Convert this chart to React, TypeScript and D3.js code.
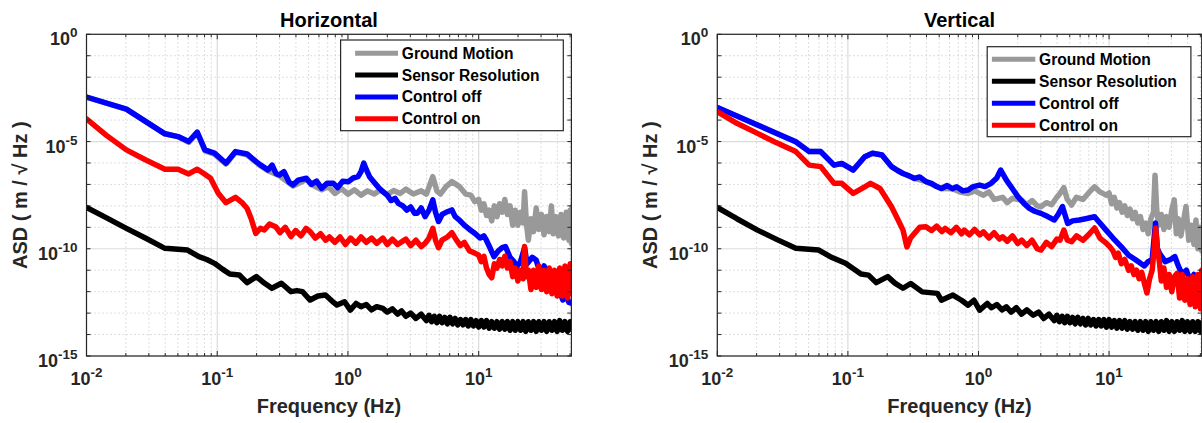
import React from "react";
import * as d3 from "d3";

// Each point: [log10 frequency (Hz), log10 ASD (m/√Hz)]
type P = [number, number];

const seriesNames = ["Ground Motion", "Sensor Resolution", "Control off", "Control on"];
const seriesColors = ["#999999", "#000000", "#0000ff", "#ff0000"];
const xTickExponents = [-2, -1, 0, 1];
const yTickExponents = [0, -5, -10, -15];
const panelTitles = ["Horizontal", "Vertical"];
const xLabel = "Frequency (Hz)";
const yLabel = "ASD ( m / \u221A Hz )";
const freqRange = [0.01, 51.2];
const asdRange = [1e-15, 1];

const hGround: P[] = [[-2,-2.93],[-1.695,-3.49],[-1.4,-4.64],[-1.3,-4.77],[-1.218,-5.04],[-1.153,-4.6],[-1.094,-5.44],[-1.021,-5.59],[-0.933,-6.05],[-0.86,-5.5],[-0.772,-5.62],[-0.67,-6.13],[-0.612,-6.36],[-0.524,-6.6],[-0.42,-7.07],[-0.318,-6.77],[-0.25,-7.1],[-0.201,-7.25],[-0.15,-7.1],[-0.1,-7.42],[-0.05,-7.2],[0,-7.45],[0.05,-7.25],[0.1,-7.5],[0.15,-7.3],[0.2,-7.45],[0.25,-7.25],[0.3,-7.48],[0.35,-7.28],[0.4,-7.42],[0.443,-7.22],[0.5,-7.45],[0.56,-7.3],[0.6,-7.45],[0.649,-6.64],[0.68,-7.3],[0.707,-7.45],[0.75,-7.1],[0.795,-6.87],[0.853,-7.1],[0.9,-7.45],[0.94,-7.5],[0.97,-7.8],[1,-7.7],[1.02,-8.2],[1.04,-7.9],[1.06,-8.45],[1.08,-8.2],[1.1,-8.7],[1.12,-8.0],[1.14,-8.5],[1.16,-7.9],[1.18,-8.3],[1.2,-7.7],[1.22,-8.4],[1.24,-8.0],[1.26,-8.9],[1.28,-8.2],[1.3,-8.9],[1.32,-8.3],[1.34,-8.8],[1.351,-7.34],[1.365,-8.8],[1.38,-9.6],[1.4,-8.6],[1.42,-9.2],[1.44,-8.1],[1.46,-9.1],[1.48,-8.4],[1.5,-9.35],[1.52,-8.5],[1.54,-9.2],[1.556,-8.0],[1.57,-9.3],[1.59,-8.5],[1.61,-9.4],[1.63,-8.4],[1.65,-9.5],[1.67,-8.3],[1.69,-9.6],[1.7,-8.2],[1.71,-9.75],[1.714,-8.05]];

const hSensor: P[] = [[-2,-8.07],[-1.85,-8.55],[-1.695,-9.05],[-1.55,-9.5],[-1.4,-9.98],[-1.3,-10.02],[-1.227,-10.06],[-1.14,-10.37],[-1.08,-10.5],[-1.021,-10.68],[-0.96,-10.95],[-0.904,-11.18],[-0.831,-11.22],[-0.772,-11.58],[-0.7,-11.3],[-0.64,-11.6],[-0.582,-11.84],[-0.509,-11.61],[-0.436,-12.0],[-0.39,-11.95],[-0.348,-12.0],[-0.289,-12.39],[-0.23,-12.2],[-0.172,-12.16],[-0.12,-12.45],[-0.084,-12.62],[-0.026,-12.47],[0.018,-12.86],[0.062,-12.55],[0.1,-12.7],[0.14,-12.6],[0.18,-12.85],[0.22,-12.7],[0.267,-12.78],[0.3,-12.95],[0.34,-12.8],[0.38,-13.05],[0.41,-12.9],[0.443,-13.15],[0.48,-13.0],[0.52,-13.25],[0.56,-13.05],[0.6,-13.35],[0.62,-13.1],[0.64,-13.4],[0.66,-13.15],[0.68,-13.45],[0.7,-13.15],[0.72,-13.45],[0.74,-13.2],[0.76,-13.5],[0.78,-13.2],[0.8,-13.5],[0.82,-13.25],[0.84,-13.55],[0.86,-13.3],[0.88,-13.55],[0.9,-13.3],[0.92,-13.6],[0.94,-13.3],[0.96,-13.6],[0.98,-13.35],[1,-13.65],[1.02,-13.35],[1.04,-13.65],[1.06,-13.35],[1.08,-13.7],[1.1,-13.4],[1.12,-13.7],[1.14,-13.4],[1.16,-13.75],[1.18,-13.4],[1.2,-13.75],[1.22,-13.4],[1.24,-13.8],[1.26,-13.4],[1.28,-13.8],[1.3,-13.4],[1.32,-13.8],[1.34,-13.4],[1.36,-13.85],[1.38,-13.4],[1.4,-13.8],[1.42,-13.4],[1.44,-13.85],[1.46,-13.4],[1.48,-13.8],[1.5,-13.4],[1.52,-13.85],[1.54,-13.4],[1.56,-13.8],[1.58,-13.4],[1.6,-13.85],[1.62,-13.35],[1.64,-13.8],[1.66,-13.4],[1.68,-13.85],[1.7,-13.4],[1.714,-13.75]];

const hOff: P[] = [[-2,-2.93],[-1.695,-3.49],[-1.4,-4.64],[-1.3,-4.77],[-1.218,-5.0],[-1.153,-4.56],[-1.094,-5.39],[-1.021,-5.54],[-0.933,-6.01],[-0.86,-5.47],[-0.772,-5.58],[-0.7,-5.95],[-0.67,-6.09],[-0.612,-6.32],[-0.58,-6.1],[-0.55,-6.5],[-0.524,-6.56],[-0.49,-6.4],[-0.45,-6.9],[-0.42,-7.02],[-0.38,-6.8],[-0.318,-6.71],[-0.28,-7.0],[-0.24,-6.85],[-0.201,-7.18],[-0.16,-6.95],[-0.113,-6.94],[-0.08,-7.15],[-0.04,-6.85],[0.004,-6.87],[0.04,-6.7],[0.077,-6.64],[0.1,-6.4],[0.121,-6.01],[0.14,-6.3],[0.165,-6.64],[0.2,-6.9],[0.235,-7.15],[0.267,-7.34],[0.3,-7.5],[0.33,-7.75],[0.36,-7.65],[0.385,-7.88],[0.42,-8.0],[0.45,-8.2],[0.48,-8.05],[0.51,-8.35],[0.531,-8.34],[0.56,-8.1],[0.59,-8.5],[0.62,-8.2],[0.649,-7.72],[0.67,-8.3],[0.693,-8.73],[0.72,-8.4],[0.75,-8.3],[0.795,-8.19],[0.82,-8.5],[0.853,-8.66],[0.89,-8.9],[0.93,-9.1],[0.97,-9.28],[1.01,-9.5],[1.04,-9.4],[1.058,-9.59],[1.09,-10.0],[1.117,-10.37],[1.15,-10.1],[1.18,-9.95],[1.205,-9.9],[1.24,-10.4],[1.27,-10.6],[1.292,-10.83],[1.32,-10.6],[1.351,-9.95],[1.37,-10.7],[1.41,-10.4],[1.439,-10.52],[1.47,-11.1],[1.5,-10.8],[1.53,-11.4],[1.556,-11.61],[1.59,-11.4],[1.62,-12.0],[1.644,-12.39],[1.67,-12.2],[1.69,-12.5],[1.714,-12.55]];

const hOn: P[] = [[-2,-3.94],[-1.85,-4.7],[-1.695,-5.39],[-1.55,-5.85],[-1.4,-6.29],[-1.3,-6.29],[-1.218,-6.51],[-1.153,-6.29],[-1.1,-6.5],[-1.051,-6.71],[-0.992,-7.41],[-0.933,-7.85],[-0.86,-7.6],[-0.81,-7.85],[-0.772,-8.11],[-0.74,-8.6],[-0.705,-9.28],[-0.67,-9.05],[-0.64,-9.12],[-0.6,-8.85],[-0.553,-8.97],[-0.52,-9.25],[-0.48,-9.0],[-0.436,-9.43],[-0.4,-9.15],[-0.36,-9.4],[-0.32,-9.05],[-0.289,-9.2],[-0.25,-9.5],[-0.21,-9.3],[-0.17,-9.6],[-0.142,-9.45],[-0.1,-9.7],[-0.06,-9.45],[-0.02,-9.8],[0.02,-9.5],[0.06,-9.75],[0.1,-9.45],[0.14,-9.7],[0.18,-9.5],[0.22,-9.75],[0.267,-9.5],[0.3,-9.8],[0.34,-9.55],[0.38,-9.8],[0.443,-9.55],[0.48,-9.85],[0.52,-9.6],[0.56,-9.9],[0.59,-9.75],[0.62,-9.5],[0.649,-9.05],[0.67,-9.6],[0.693,-9.95],[0.72,-9.6],[0.76,-9.45],[0.795,-9.25],[0.83,-9.6],[0.86,-9.85],[0.89,-9.7],[0.93,-10.1],[0.97,-10.2],[1,-10.3],[1.02,-10.6],[1.04,-10.35],[1.06,-10.9],[1.08,-11.2],[1.1,-11.35],[1.12,-10.7],[1.14,-10.9],[1.16,-10.5],[1.18,-10.8],[1.2,-10.35],[1.22,-10.9],[1.24,-10.6],[1.26,-11.3],[1.28,-10.9],[1.3,-11.5],[1.32,-11.0],[1.34,-11.4],[1.351,-9.9],[1.365,-11.3],[1.38,-11.0],[1.4,-11.9],[1.42,-11.0],[1.44,-11.8],[1.46,-10.8],[1.48,-11.9],[1.5,-11.0],[1.52,-12.0],[1.54,-10.9],[1.56,-12.1],[1.58,-11.0],[1.6,-12.2],[1.62,-10.9],[1.64,-12.2],[1.66,-10.8],[1.68,-12.3],[1.7,-10.7],[1.714,-12.1]];

const vGround: P[] = [[-2,-3.41],[-1.692,-4.23],[-1.399,-5.01],[-1.296,-5.47],[-1.208,-5.47],[-1.106,-6.1],[-1.047,-6.02],[-0.959,-6.33],[-0.871,-5.71],[-0.812,-5.55],[-0.739,-5.63],[-0.666,-6.17],[-0.578,-6.49],[-0.49,-6.72],[-0.402,-6.87],[-0.284,-7.19],[-0.2,-7.2],[-0.14,-7.35],[-0.079,-7.42],[-0.03,-7.3],[0.038,-7.5],[0.08,-7.35],[0.12,-7.7],[0.185,-7.6],[0.22,-7.85],[0.26,-7.65],[0.331,-7.73],[0.37,-7.95],[0.41,-7.75],[0.45,-8.0],[0.478,-8.04],[0.52,-7.85],[0.56,-7.95],[0.6,-7.6],[0.624,-7.42],[0.654,-7.15],[0.68,-7.7],[0.713,-7.96],[0.75,-7.6],[0.8,-7.7],[0.85,-7.35],[0.889,-7.11],[0.93,-7.35],[0.977,-7.5],[1,-7.4],[1.02,-7.9],[1.04,-7.6],[1.06,-8.1],[1.08,-7.85],[1.1,-8.3],[1.12,-8.0],[1.14,-8.45],[1.16,-8.15],[1.18,-8.6],[1.2,-8.3],[1.22,-8.8],[1.24,-8.5],[1.26,-9.1],[1.28,-8.8],[1.3,-9.3],[1.32,-8.6],[1.34,-8.3],[1.352,-6.57],[1.365,-8.2],[1.38,-8.9],[1.4,-8.4],[1.42,-9.1],[1.44,-8.5],[1.46,-9.0],[1.48,-8.2],[1.499,-7.72],[1.515,-9.3],[1.53,-8.6],[1.55,-9.4],[1.57,-8.7],[1.589,-8.03],[1.61,-9.6],[1.63,-8.9],[1.65,-9.8],[1.665,-8.66],[1.68,-10.0],[1.695,-9.0],[1.71,-10.1]];

const vSensor: P[] = [[-2,-8.07],[-1.85,-8.6],[-1.692,-9.13],[-1.55,-9.55],[-1.399,-9.98],[-1.3,-10.02],[-1.223,-10.06],[-1.135,-10.37],[-1.018,-10.68],[-0.9,-11.18],[-0.842,-11.23],[-0.783,-11.58],[-0.695,-11.3],[-0.64,-11.6],[-0.578,-11.84],[-0.519,-11.62],[-0.431,-12.01],[-0.314,-12.08],[-0.284,-12.4],[-0.196,-12.16],[-0.13,-12.4],[-0.079,-12.63],[-0.035,-12.4],[0.009,-12.86],[0.067,-12.55],[0.1,-12.75],[0.14,-12.6],[0.18,-12.85],[0.214,-12.71],[0.25,-12.95],[0.29,-12.75],[0.33,-13.05],[0.37,-12.85],[0.419,-13.1],[0.46,-12.95],[0.5,-13.25],[0.54,-13.05],[0.58,-13.35],[0.6,-13.1],[0.62,-13.4],[0.64,-13.15],[0.66,-13.45],[0.68,-13.15],[0.7,-13.45],[0.72,-13.2],[0.74,-13.5],[0.76,-13.2],[0.78,-13.5],[0.8,-13.25],[0.82,-13.55],[0.84,-13.25],[0.86,-13.55],[0.88,-13.3],[0.9,-13.6],[0.92,-13.3],[0.94,-13.6],[0.96,-13.3],[0.98,-13.65],[1,-13.3],[1.02,-13.65],[1.04,-13.35],[1.06,-13.7],[1.08,-13.35],[1.1,-13.7],[1.12,-13.35],[1.14,-13.75],[1.16,-13.4],[1.18,-13.75],[1.2,-13.4],[1.22,-13.8],[1.24,-13.4],[1.26,-13.8],[1.28,-13.4],[1.3,-13.85],[1.32,-13.4],[1.34,-13.8],[1.36,-13.4],[1.38,-13.85],[1.4,-13.4],[1.42,-13.8],[1.44,-13.35],[1.46,-13.85],[1.48,-13.4],[1.5,-13.85],[1.52,-13.4],[1.54,-13.8],[1.56,-13.35],[1.58,-13.85],[1.6,-13.4],[1.62,-13.85],[1.64,-13.4],[1.66,-13.85],[1.68,-13.4],[1.7,-13.85],[1.71,-13.45]];

const vOff: P[] = [[-2,-3.41],[-1.692,-4.23],[-1.399,-5.01],[-1.296,-5.47],[-1.208,-5.47],[-1.106,-6.1],[-1.047,-6.02],[-0.959,-6.33],[-0.871,-5.71],[-0.812,-5.55],[-0.739,-5.63],[-0.666,-6.17],[-0.62,-6.35],[-0.578,-6.49],[-0.53,-6.6],[-0.49,-6.72],[-0.45,-6.65],[-0.402,-6.87],[-0.36,-6.95],[-0.32,-7.1],[-0.284,-7.19],[-0.24,-7.05],[-0.2,-7.2],[-0.167,-7.11],[-0.12,-7.3],[-0.079,-7.26],[-0.04,-7.1],[0.009,-7.03],[0.05,-7.1],[0.097,-6.95],[0.14,-6.7],[0.17,-6.33],[0.214,-6.8],[0.26,-7.2],[0.302,-7.57],[0.35,-7.9],[0.39,-8.12],[0.43,-8.25],[0.478,-8.35],[0.53,-8.5],[0.581,-8.66],[0.61,-8.4],[0.643,-8.03],[0.683,-8.82],[0.72,-8.7],[0.771,-8.66],[0.82,-8.6],[0.889,-8.51],[0.93,-8.8],[0.977,-9.13],[1.03,-9.5],[1.094,-9.91],[1.15,-10.3],[1.2,-10.5],[1.241,-10.68],[1.27,-10.8],[1.299,-10.6],[1.33,-10.5],[1.355,-8.8],[1.37,-10.0],[1.387,-10.22],[1.43,-10.6],[1.47,-10.5],[1.504,-10.37],[1.53,-10.8],[1.56,-11.2],[1.592,-11.0],[1.62,-11.5],[1.65,-11.2],[1.68,-11.7],[1.71,-11.15]];

const vOn: P[] = [[-2,-3.61],[-1.85,-4.15],[-1.692,-4.62],[-1.55,-5.05],[-1.399,-5.47],[-1.296,-6.1],[-1.208,-6.17],[-1.106,-6.95],[-1.047,-6.95],[-0.959,-7.42],[-0.871,-7.11],[-0.827,-6.95],[-0.754,-7.19],[-0.666,-8.04],[-0.62,-8.6],[-0.578,-9.13],[-0.548,-9.91],[-0.52,-9.5],[-0.49,-9.28],[-0.45,-9.0],[-0.402,-8.97],[-0.36,-9.15],[-0.32,-8.95],[-0.28,-9.2],[-0.255,-9.05],[-0.21,-9.25],[-0.17,-9.0],[-0.13,-9.3],[-0.109,-9.13],[-0.07,-9.35],[-0.03,-9.1],[0.01,-9.35],[0.038,-9.21],[0.08,-9.5],[0.12,-9.25],[0.16,-9.55],[0.185,-9.44],[0.22,-9.65],[0.26,-9.4],[0.3,-9.75],[0.331,-9.6],[0.37,-9.85],[0.41,-9.6],[0.45,-10.0],[0.478,-10.06],[0.52,-9.7],[0.56,-9.9],[0.6,-9.55],[0.624,-9.6],[0.654,-9.13],[0.68,-9.6],[0.713,-9.67],[0.75,-9.4],[0.8,-9.6],[0.85,-9.3],[0.889,-9.03],[0.93,-9.5],[0.97,-9.7],[1.006,-9.91],[1.03,-10.1],[1.05,-10.4],[1.07,-10.2],[1.094,-10.7],[1.12,-10.5],[1.15,-11.0],[1.17,-10.8],[1.19,-11.2],[1.211,-11.0],[1.23,-11.4],[1.25,-11.1],[1.27,-11.6],[1.29,-12.06],[1.31,-11.4],[1.33,-11.0],[1.345,-10.0],[1.357,-9.03],[1.37,-10.0],[1.385,-10.6],[1.4,-11.5],[1.42,-10.9],[1.44,-11.8],[1.46,-11.2],[1.48,-12.0],[1.5,-11.3],[1.52,-11.15],[1.54,-12.3],[1.56,-11.2],[1.58,-12.4],[1.6,-11.4],[1.62,-12.6],[1.64,-11.3],[1.66,-12.7],[1.68,-11.2],[1.7,-12.8],[1.71,-11.0]];

const horizontalSeries = [hGround, hSensor, hOff, hOn];
const verticalSeries = [vGround, vSensor, vOff, vOn];

const FONT = "'Liberation Sans', Arial, Helvetica, sans-serif";
const INK = "#262626";
const Y_TOP = 34.3;
const Y_BOT = 356;

type Layout = {
  x0: number; x1: number;
  lgX: number; lgY: number; lgW: number; lgH: number;
  lineX1: number; lineX2: number; textX: number; row0: number; rowStep: number;
  id: string;
};

function Panel({ title, series, L }: { title: string; series: P[][]; L: Layout }) {
  const x = d3.scaleLog().domain(freqRange).range([L.x0, L.x1]);
  const y = d3.scaleLog().domain(asdRange).range([Y_BOT, Y_TOP]);
  const line = d3
    .line<P>()
    .x((d) => x(Math.pow(10, d[0])))
    .y((d) => y(Math.pow(10, d[1])));

  const majorX = xTickExponents.map((e) => Math.pow(10, e));
  const minorX: number[] = [];
  for (let k = -2; k <= 1; k++) {
    for (let m = 2; m <= 9; m++) {
      const f = m * Math.pow(10, k);
      if (f <= freqRange[1]) minorX.push(f);
    }
  }
  const majorY = yTickExponents.map((e) => Math.pow(10, e));
  const minorY: number[] = [];
  for (let e = -14; e <= -1; e++) if (e % 5 !== 0) minorY.push(Math.pow(10, e));

  const cx = (L.x0 + L.x1) / 2;
  const cy = (Y_TOP + Y_BOT) / 2;

  return (
    <g>
      <defs>
        <clipPath id={L.id}>
          <rect x={L.x0} y={Y_TOP} width={L.x1 - L.x0} height={Y_BOT - Y_TOP} />
        </clipPath>
      </defs>
      <rect x={L.x0} y={Y_TOP} width={L.x1 - L.x0} height={Y_BOT - Y_TOP} fill="#fff" />
      {minorX.map((f, i) => (
        <line key={"mgx" + i} x1={x(f)} x2={x(f)} y1={Y_TOP} y2={Y_BOT} stroke="#c8c8c8" strokeWidth={1} strokeDasharray="1.2,2.8" />
      ))}
      {minorY.map((v, i) => (
        <line key={"mgy" + i} x1={L.x0} x2={L.x1} y1={y(v)} y2={y(v)} stroke="#c8c8c8" strokeWidth={1} strokeDasharray="1.2,2.8" />
      ))}
      {majorX.map((f, i) => (
        <line key={"gx" + i} x1={x(f)} x2={x(f)} y1={Y_TOP} y2={Y_BOT} stroke="#dcdcdc" strokeWidth={1.2} />
      ))}
      {majorY.map((v, i) => (
        <line key={"gy" + i} x1={L.x0} x2={L.x1} y1={y(v)} y2={y(v)} stroke="#dcdcdc" strokeWidth={1.2} />
      ))}
      <g clipPath={`url(#${L.id})`}>
        {series.map((s, i) => (
          <path key={"s" + i} d={line(s) || ""} fill="none" stroke={seriesColors[i]} strokeWidth={5.5} strokeLinejoin="round" strokeLinecap="round" />
        ))}
      </g>
      {minorX.map((f, i) => (
        <g key={"tx" + i}>
          <line x1={x(f)} x2={x(f)} y1={Y_BOT} y2={Y_BOT - 3} stroke={INK} />
          <line x1={x(f)} x2={x(f)} y1={Y_TOP} y2={Y_TOP + 3} stroke={INK} />
        </g>
      ))}
      {majorX.map((f, i) => (
        <g key={"Tx" + i}>
          <line x1={x(f)} x2={x(f)} y1={Y_BOT} y2={Y_BOT - 5} stroke={INK} />
          <line x1={x(f)} x2={x(f)} y1={Y_TOP} y2={Y_TOP + 5} stroke={INK} />
        </g>
      ))}
      {minorY.concat(majorY).map((v, i) => (
        <g key={"ty" + i}>
          <line x1={L.x0} x2={L.x0 + 4} y1={y(v)} y2={y(v)} stroke={INK} />
          <line x1={L.x1} x2={L.x1 - 4} y1={y(v)} y2={y(v)} stroke={INK} />
        </g>
      ))}
      <rect x={L.x0} y={Y_TOP} width={L.x1 - L.x0} height={Y_BOT - Y_TOP} fill="none" stroke={INK} strokeWidth={1.2} />
      {xTickExponents.map((e, i) => (
        <text key={"lx" + i} x={x(Math.pow(10, e))} y={385} textAnchor="middle" fontFamily={FONT} fontWeight="bold" fontSize={18} fill={INK}>
          10<tspan fontSize={13.5} dy={-8}>{e}</tspan>
        </text>
      ))}
      {yTickExponents.map((e, i) => (
        <text key={"ly" + i} x={L.x0 - 9} y={y(Math.pow(10, e)) + 11} textAnchor="end" fontFamily={FONT} fontWeight="bold" fontSize={18} fill={INK}>
          10<tspan fontSize={13.5} dy={-8}>{e}</tspan>
        </text>
      ))}
      <text x={cx} y={27} textAnchor="middle" fontFamily={FONT} fontWeight="bold" fontSize={20} fill="#000">{title}</text>
      <text x={cx} y={413} textAnchor="middle" fontFamily={FONT} fontWeight="bold" fontSize={20} fill={INK}>{xLabel}</text>
      <text transform={`translate(${L.x0 - 60},${cy}) rotate(-90)`} textAnchor="middle" fontFamily={FONT} fontWeight="bold" fontSize={20} fill={INK}>{yLabel}</text>
      <rect x={L.lgX} y={L.lgY} width={L.lgW} height={L.lgH} fill="#fff" stroke={INK} strokeWidth={1.2} />
      {seriesNames.map((n, i) => (
        <g key={"lg" + i}>
          <line x1={L.lineX1} x2={L.lineX2} y1={L.row0 + i * L.rowStep} y2={L.row0 + i * L.rowStep} stroke={seriesColors[i]} strokeWidth={5} />
          <text x={L.textX} y={L.row0 + i * L.rowStep} dominantBaseline="central" fontFamily={FONT} fontWeight="bold" fontSize={15.6} fill="#000">{n}</text>
        </g>
      ))}
    </g>
  );
}

const leftLayout: Layout = {
  x0: 86.5, x1: 571.4,
  lgX: 340.6, lgY: 40, lgW: 222.7, lgH: 90.7,
  lineX1: 355.1, lineX2: 398, textX: 401.8, row0: 53.3, rowStep: 21.8,
  id: "clipH",
};
const rightLayout: Layout = {
  x0: 717.3, x1: 1201.7,
  lgX: 987.2, lgY: 46.7, lgW: 203.7, lgH: 90,
  lineX1: 991.9, lineX2: 1035.3, textX: 1039.1, row0: 59.3, rowStep: 22,
  id: "clipV",
};

export default function App() {
  return (
    <svg width={1202} height={423} style={{ position: "absolute", left: 0, top: 0, background: "#fff" }}>
      <rect x={0} y={0} width={1202} height={423} fill="#fff" />
      <Panel title={panelTitles[0]} series={horizontalSeries} L={leftLayout} />
      <Panel title={panelTitles[1]} series={verticalSeries} L={rightLayout} />
    </svg>
  );
}
